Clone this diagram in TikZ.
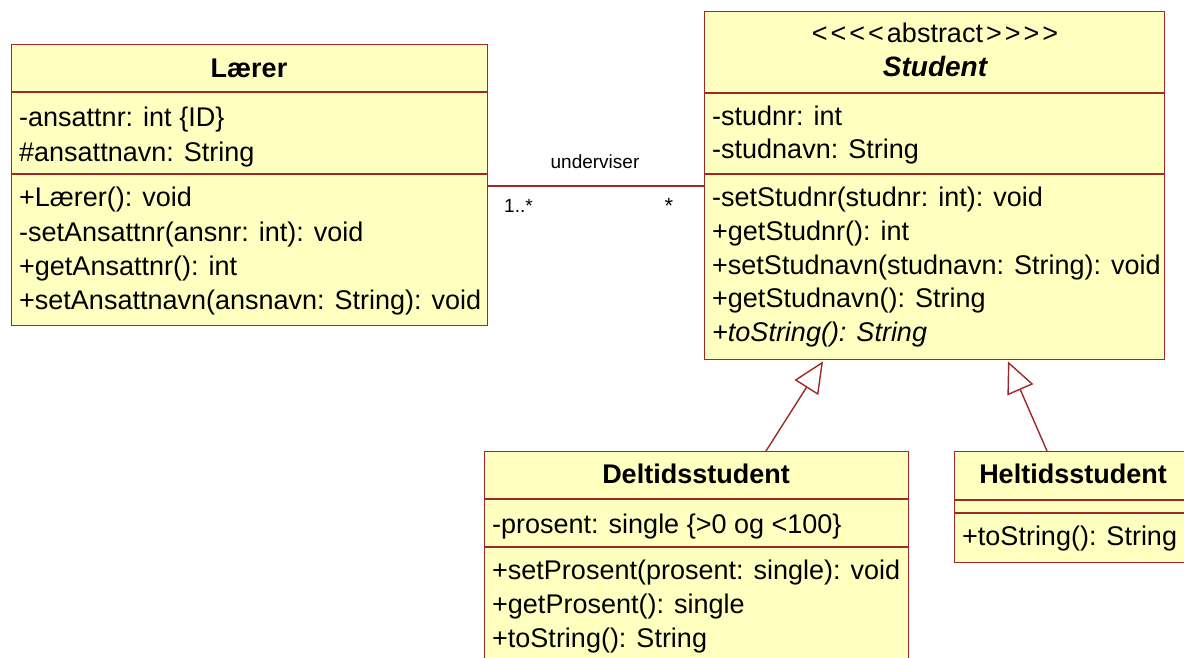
\documentclass[tikz,border=0pt]{standalone}
\usepackage{fontspec}
\setmainfont{Liberation Sans}
\usetikzlibrary{arrows.meta,calc}
\definecolor{umlline}{RGB}{160,40,40}
\definecolor{umlfill}{RGB}{255,255,192}
\newcommand{\lt}{<\kern3pt}
\newcommand{\gt}{\kern3pt>}
\tikzset{
  classbox/.style={draw=umlline, fill=umlfill, line width=1.4pt, anchor=north west, inner sep=0pt},
  compsep/.style={draw=umlline, line width=1.4pt},
  member/.style={anchor=base west, inner sep=0pt, font=\fontsize{27}{34}\selectfont},
  classname/.style={anchor=base, inner sep=0pt, font=\fontsize{27}{34}\selectfont\bfseries},
  assoc/.style={draw=umlline, line width=1.4pt},
  generalization/.style={draw=umlline, line width=1.4pt, -{Triangle[open,length=31pt,width=28pt]}},
  rolelabel/.style={anchor=base, inner sep=0pt, font=\fontsize{19}{22}\selectfont},
}
\begin{document}
\begin{tikzpicture}[x=1pt, y=-1pt]
\useasboundingbox (0,0) rectangle (1184,658);
\clip (0,0) rectangle (1184,658);

% ---------- Lærer ----------
\node[classbox, minimum width=476pt, minimum height=281pt] (laerer) at (11,44) {};
\draw[compsep] ($(laerer.north west)+(0,48)$) -- ($(laerer.north east)+(0,48)$);
\draw[compsep] ($(laerer.north west)+(0,130)$) -- ($(laerer.north east)+(0,130)$);
\node[classname] (laererT) at (249,78) {Lærer};
\node[member] (laererA1) at (19,127) {-ansattnr: int \{ID\}};
\node[member] (laererA2) at (19,161) {\#ansattnavn: String};
\node[member] (laererM1) at (19,207) {+Lærer(): void};
\node[member] (laererM2) at (19,241) {-setAnsattnr(ansnr: int): void};
\node[member] (laererM3) at (19,275) {+getAnsattnr(): int};
\node[member] (laererM4) at (19,309) {+setAnsattnavn(ansnavn: String): void};

% ---------- Student (abstract) ----------
\node[classbox, minimum width=460pt, minimum height=348pt] (student) at (704,11) {};
\draw[compsep] ($(student.north west)+(0,82)$) -- ($(student.north east)+(0,82)$);
\draw[compsep] ($(student.north west)+(0,163)$) -- ($(student.north east)+(0,163)$);
\node[classname, font=\fontsize{27}{34}\selectfont] (studentS) at (935,43) {\lt\lt\lt\lt abstract\gt\gt\gt\gt};
\node[classname, font=\fontsize{28}{34}\selectfont\bfseries\itshape] (studentT) at (935,77) {Student};
\node[member] (studentA1) at (712,126) {-studnr: int};
\node[member] (studentA2) at (712,159) {-studnavn: String};
\node[member] (studentM1) at (712,207) {-setStudnr(studnr: int): void};
\node[member] (studentM2) at (712,240.5) {+getStudnr(): int};
\node[member] (studentM3) at (712,274) {+setStudnavn(studnavn: String): void};
\node[member] (studentM4) at (712,307.5) {+getStudnavn(): String};
\node[member, font=\fontsize{27}{34}\selectfont\itshape] (studentM5) at (712,341) {+toString(): String};

% ---------- Deltidsstudent ----------
\node[classbox, minimum width=424pt, minimum height=230pt] (deltid) at (484,451) {};
\draw[compsep] ($(deltid.north west)+(0,48)$) -- ($(deltid.north east)+(0,48)$);
\draw[compsep] ($(deltid.north west)+(0,96)$) -- ($(deltid.north east)+(0,96)$);
\node[classname] (deltidT) at (696,483) {Deltidsstudent};
\node[member] (deltidA1) at (492,533) {-prosent: single \{>0 og <100\}};
\node[member] (deltidM1) at (492,579) {+setProsent(prosent: single): void};
\node[member] (deltidM2) at (492,613) {+getProsent(): single};
\node[member] (deltidM3) at (492,647) {+toString(): String};

% ---------- Heltidsstudent ----------
\node[classbox, minimum width=238pt, minimum height=111pt] (heltid) at (954,451) {};
\draw[compsep] ($(heltid.north west)+(0,49)$) -- ($(heltid.north east)+(0,49)$);
\draw[compsep] ($(heltid.north west)+(0,62)$) -- ($(heltid.north east)+(0,62)$);
\node[classname] (heltidT) at (1073,483) {Heltidsstudent};
\node[member] (heltidM1) at (962,545) {+toString(): String};

% ---------- Association ----------
\draw[assoc] ($(laerer.north east)+(0,142)$) -- ($(student.north west)+(0,175)$);
\node[rolelabel] (assocName) at (595,168) {underviser};
\node[rolelabel, anchor=base west] (assocLaerer) at (504,212) {1..*};
\node[rolelabel, font=\fontsize{22}{22}\selectfont] (assocStudent) at (669,214) {*};

% ---------- Generalizations ----------
\draw[generalization] ($(deltid.north west)+(282,0)$) -- ($(student.south west)+(119,1)$);
\draw[generalization] ($(heltid.north west)+(93,0)$) -- ($(student.south west)+(304,1)$);
\end{tikzpicture}
\end{document}
